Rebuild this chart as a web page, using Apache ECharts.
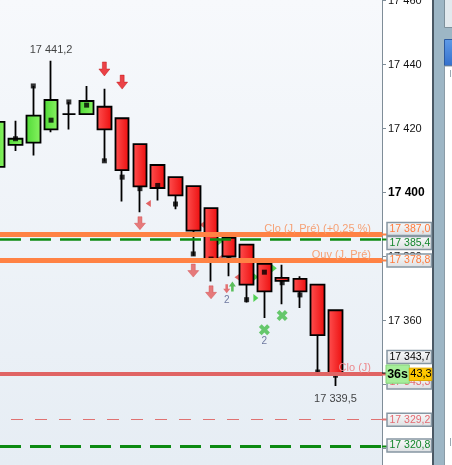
<!DOCTYPE html>
<html><head><meta charset="utf-8">
<script src="https://cdn.jsdelivr.net/npm/echarts@6/dist/echarts.min.js"></script>
<style>html,body{margin:0;padding:0;background:#fff}#c{width:452px;height:465px}</style>
</head><body><div id="c"></div>
<script>
// ---------- DATA ----------
const candleIdx = [0,1,2,3,4,5,6,7,8,9,10,11,12,13,14,15,16,17,18,19];
const opens  = [17408.0,17414.9,17415.6,17419.7,17424.5,17424.5,17426.8,17423.2,17415.1,17408.6,17404.8,17402.0,17395.1,17385.8,17383.7,17377.7,17373.3,17373.0,17371.2,17363.2];
const closes = [17422.1,17416.8,17424.0,17428.9,17424.5,17428.6,17419.7,17407.0,17401.9,17401.4,17399.1,17388.1,17378.9,17380.0,17371.2,17369.1,17372.4,17369.1,17355.4,17343.3];
const lows   = [17405.0,17413.0,17411.6,17418.8,17419.7,17424.5,17409.7,17397.2,17393.8,17397.5,17394.8,17380.2,17372.2,17373.8,17365.6,17360.8,17365.1,17363.9,17343.7,17339.5];
const highs  = [17424.0,17422.4,17433.3,17441.2,17428.3,17433.3,17432.4,17423.2,17415.1,17408.6,17404.8,17402.0,17395.1,17387.6,17383.7,17377.7,17377.4,17373.8,17371.2,17363.2];
const dots   = [null,17416.8,17433.3,17422.6,17428.3,17427.3,17409.9,17404.8,17401.2,17402.2,17396.4,17380.8,17379.2,17379.3,17366.5,17375.1,17371.8,17368.0,17343.9,17342.9];

const sigDownStrong = [[6,17438.6],[7,17434.5]];
const sigDownSoft   = [[8,17390.4],[11,17375.6],[12,17368.8]];
const sigDownSmall  = [[12.88,17369.9]];
const sigUpSmall    = [[13.2,17370.6]];
const crossMarks    = [[15,17357.1],[16,17361.6]];
const crossCounts   = ['2',''];
const triRight      = [[12.54,17384.8],[14.52,17373.6],[14.52,17367.0],[15.56,17376.3]];
const triLeft       = [[8.47,17396.6],[11.49,17389.9],[13.46,17373.5],[12.5,17379.5]];

const cloPrev = 17387.0, greenLvl = 17385.4, ouvPrev = 17378.8;
const cloJ = 17343.3, lowMark = 17343.7, redLvl = 17329.2, greenLvl2 = 17320.8;
const cloPrevText = 'Clo (J, Pré) (+0,25 %)', ouvPrevText = 'Ouv (J, Pré)', cloJText = 'Clo (J)';
const countdownText = '36s';
const tickValues = [17320,17340,17360,17380,17400,17420,17440,17460];
const boldTick = 17400;

// ---------- HELPERS ----------
function fmt(v, dec){
  const s = v.toFixed(dec).split('.');
  const i = s[0].replace(/\B(?=(\d{3})+(?!\d))/g,' ');
  return dec ? i + ',' + s[1] : i;
}
const FONT = '"Liberation Sans", Arial, sans-serif';
const chart = echarts.init(document.getElementById('c'), null, {renderer:'canvas'});

const Y_MAX = 17460.156, Y_MIN = 17314.844, X_MIN = 0.128, X_MAX = 21.616;

const redGrad = new echarts.graphic.LinearGradient(0,0,1,0,[{offset:0,color:'#ff5252'},{offset:1,color:'#ec0c0c'}]);
const greenGrad = new echarts.graphic.LinearGradient(0,0,1,0,[{offset:0,color:'#4ed936'},{offset:1,color:'#8af462'}]);

const candleData = candleIdx.map((x,i)=>[x,opens[i],closes[i],lows[i],highs[i]]);
const dotData = candleIdx.map((x,i)=>dots[i]==null?null:[x,dots[i]]).filter(d=>d);

const arrowDown = 'path://M3.5,0 H7.5 V7 H11 L5.5,14 L0,7 H3.5 Z';
const arrowUp = 'path://M5.5,0 L11,7 H7.5 V14 H3.5 V7 H0 Z';
const xPath = 'path://M0,2.5 L2.5,0 L5,2.5 L7.5,0 L10,2.5 L7.5,5 L10,7.5 L7.5,10 L5,7.5 L2.5,10 L0,7.5 L2.5,5 Z';

const option = {
  animation:false,
  grid:{left:0,right:70,top:0,bottom:0,containLabel:false,outerBoundsMode:'none'},
  xAxis:{type:'value',min:X_MIN,max:X_MAX,show:false},
  yAxis:{type:'value',position:'right',min:Y_MIN,max:Y_MAX,
    axisLine:{show:true,lineStyle:{color:'#7f8d98',width:1}},
    axisTick:{show:true,length:4,lineStyle:{color:'#7f8d98'},customValues:tickValues},
    axisLabel:{customValues:tickValues,margin:6,color:'#111',fontSize:11,fontFamily:FONT,
      formatter:v=> v===boldTick ? '{b|'+fmt(v,0)+'}' : fmt(v,0),
      rich:{b:{fontWeight:'bold',fontSize:12,fontFamily:FONT,color:'#000'}}},
    splitLine:{show:false}},
  series:[
    {type:'scatter',z:1,symbol:'path://M6,0 L0,4 L6,8 Z',symbolSize:[5,7],silent:true,
      itemStyle:{color:'#e04848',opacity:0.85},data:triLeft},
    {type:'scatter',z:1,symbol:'path://M0,0 L6,4 L0,8 Z',symbolSize:[5,8],silent:true,
      itemStyle:{color:'#2cc82c'},data:triRight},
    {type:'candlestick',z:2,barWidth:14,data:candleData,silent:true,
      itemStyle:{color:greenGrad,color0:redGrad,borderColor:'#000',borderColor0:'#000',borderColorDoji:'#000',borderWidth:1.8}},
    {type:'scatter',z:3,symbol:'rect',symbolSize:5,silent:true,itemStyle:{color:'#000'},data:dotData},
    {type:'line',z:4,data:[],silent:true,
      markLine:{silent:true,symbol:['none','none'],animation:false,z:5,
        label:{fontFamily:FONT,fontSize:11},
        data:[
          {yAxis:cloPrev,lineStyle:{color:'#ff8244',width:5,type:'solid'},
            label:{show:true,position:'insideEndTop',distance:[11,0],formatter:cloPrevText,color:'#f6a175'}},
          {yAxis:greenLvl,lineStyle:{color:'#0c8a12',width:2.5,type:[21,9]},label:{show:false}},
          {yAxis:ouvPrev,lineStyle:{color:'#ff8244',width:5,type:'solid'},
            label:{show:true,position:'insideEndTop',distance:[11,0],formatter:ouvPrevText,color:'#f6a175'}},
          {yAxis:cloJ,lineStyle:{color:'#e06464',width:4,type:'solid'},
            label:{show:true,position:'insideEndTop',distance:[11,0],formatter:cloJText,color:'#ec8a8e'}},
          {yAxis:redLvl,lineStyle:{color:'#e07272',width:1,type:[12,12],dashOffset:-11},label:{show:false}},
          {yAxis:greenLvl2,lineStyle:{color:'#0c8a12',width:3,type:[21,9]},label:{show:false}}
        ]}},
    {type:'scatter',z:6,symbol:arrowDown,symbolSize:[11,14],silent:true,
      itemStyle:{color:'#e8141a',borderColor:'#b80000',borderWidth:0.5},data:sigDownStrong},
    {type:'scatter',z:6,symbol:arrowDown,symbolSize:[11,13],silent:true,
      itemStyle:{color:'#e45a5a',borderColor:'#d24040',borderWidth:0.5},data:sigDownSoft},
    {type:'scatter',z:6,symbol:arrowDown,symbolSize:[7,9],silent:true,
      itemStyle:{color:'#e05252'},
      label:{show:true,position:'bottom',distance:2,formatter:'2',color:'#4d5a8a',fontSize:10,fontFamily:FONT},
      data:sigDownSmall},
    {type:'scatter',z:6,symbol:arrowUp,symbolSize:[7,10],silent:true,itemStyle:{color:'#34b234'},data:sigUpSmall},
    {type:'scatter',z:6,symbol:xPath,symbolSize:11,silent:true,itemStyle:{color:'#44bd48'},
      label:{show:true,position:'bottom',distance:1,color:'#4d5a8a',fontSize:10,fontFamily:FONT,
        formatter:p=>crossCounts[p.dataIndex]},
      data:crossMarks},
    {type:'scatter',z:7,symbolSize:0,silent:true,
      label:{show:true,position:'top',distance:5,color:'#111',fontSize:11,fontFamily:FONT,formatter:p=>fmt(p.value[1],1)},
      data:[[candleIdx[3],highs[3]]]},
    {type:'scatter',z:7,symbolSize:0,silent:true,
      label:{show:true,position:'bottom',distance:7,color:'#111',fontSize:11,fontFamily:FONT,formatter:p=>fmt(p.value[1],1)},
      data:[[candleIdx[19],lows[19]]]}
  ]
};
chart.setOption(option);

// ---------- RIGHT-SIDE PANEL (positions through the chart's own y scale) ----------
const yPx = v => chart.convertToPixel({yAxisIndex:0}, v);
const boxValues = [cloPrev, greenLvl, ouvPrev, lowMark, cloJ, redLvl, greenLvl2];
const boxColors = ['#ff7a3c','#12852a','#ff7a3c','#000000','#e46a72','#e46a72','#12852a'];
const boxNudge  = [-5.1, 3.7, 0.2, -15.7, 8.6, 0.6, -0.4];
const tickColors = ['#ff8244','#0c8a12','#ff8244','#000','#e06464','#e07272','#0c8a12'];

const AX = 382;
const g = [];
g.push({type:'rect',z:-10,silent:true,shape:{x:0,y:0,width:AX,height:465},
  style:{fill:new echarts.graphic.LinearGradient(0,0,0,1,[{offset:0,color:'#f7f9fc'},{offset:1,color:'#e6edf4'}])}});
g.push({type:'rect',z:100,silent:true,shape:{x:432,y:0,width:2,height:465},style:{fill:'#4a5864'}});
g.push({type:'rect',z:100,silent:true,shape:{x:434,y:0,width:18,height:465},style:{fill:'#9db6c5'}});
g.push({type:'rect',z:101,silent:true,shape:{x:444.5,y:-1,width:9,height:28.5},style:{fill:'#e2e9ee',stroke:'#7d909c',lineWidth:1}});
g.push({type:'rect',z:101,silent:true,shape:{x:444.5,y:39.5,width:9,height:26},
  style:{fill:new echarts.graphic.LinearGradient(0,0,0,1,[{offset:0,color:'#5f9be8'},{offset:1,color:'#3470cc'}]),stroke:'#2c5aa0',lineWidth:1}});
g.push({type:'rect',z:101,silent:true,shape:{x:444.5,y:66,width:9,height:400},style:{fill:'#ffffff',stroke:'#8a9ba6',lineWidth:1}});
g.push({type:'rect',z:102,silent:true,shape:{x:450,y:70,width:1,height:7},style:{fill:'#9aa8b2'}});
g.push({type:'rect',z:102,silent:true,shape:{x:450,y:438,width:1,height:8},style:{fill:'#9aa8b2'}});

boxValues.forEach((v,i)=>{
  const y = yPx(v);
  g.push({type:'line',z:100,silent:true,shape:{x1:AX,y1:Math.round(y)+0.5,x2:AX+5,y2:Math.round(y)+0.5},style:{stroke:tickColors[i],lineWidth:2}});
  const cy = y + boxNudge[i];
  g.push({type:'rect',z:101,silent:true,shape:{x:387,y:cy-6.5,width:44.5,height:13},
    style:{fill:new echarts.graphic.LinearGradient(0,0,0,1,[{offset:0,color:'#fbfbfb'},{offset:1,color:'#dcdfe2'}]),stroke:'#8797a3',lineWidth:1.5}});
  g.push({type:'text',z:102,silent:true,x:389.5,y:cy,
    style:{text:fmt(v,1),fill:boxColors[i],font:'10.5px '+FONT,textAlign:'left',textVerticalAlign:'middle'}});
});
// current-price overlay (countdown + last price)
const cy = yPx(cloJ);
g.push({type:'rect',z:110,silent:true,shape:{x:386,y:cy-9,width:23.3,height:18.3},style:{fill:'#a6ee9a',stroke:'#86d47c',lineWidth:1}});
g.push({type:'text',z:111,silent:true,x:397.6,y:cy+0.5,style:{text:countdownText,fill:'#000',font:'bold 12.5px '+FONT,textAlign:'center',textVerticalAlign:'middle'}});
g.push({type:'rect',z:110,silent:true,shape:{x:409.3,y:cy-5.8,width:22.5,height:12.4},style:{fill:'#ffc800',stroke:'#e0a800',lineWidth:1}});
g.push({type:'text',z:111,silent:true,x:410.3,y:cy+0.4,style:{text:fmt(cloJ,1).slice(-4),fill:'#000',font:'11px '+FONT,textAlign:'left',textVerticalAlign:'middle'}});

chart.setOption({graphic:{elements:g}});
</script></body></html>
